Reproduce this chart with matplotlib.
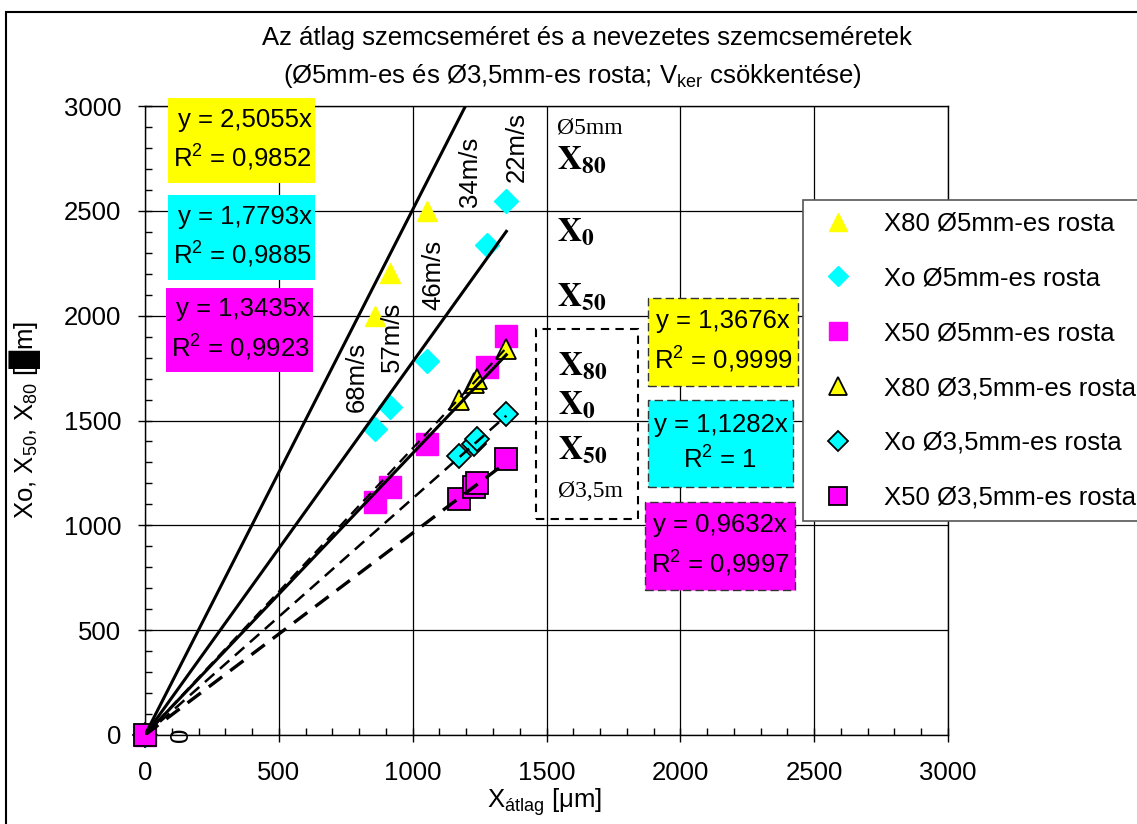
import matplotlib
matplotlib.use("Agg")
import matplotlib.pyplot as plt
from matplotlib.patches import Rectangle
from matplotlib.ticker import MultipleLocator

plt.rcParams['font.family'] = ['Liberation Sans', 'DejaVu Sans']
plt.rcParams['mathtext.fontset'] = 'custom'
plt.rcParams['mathtext.rm'] = 'Liberation Sans'
plt.rcParams['mathtext.it'] = 'Liberation Sans:italic'
plt.rcParams['mathtext.bf'] = 'Liberation Sans:bold'

# ---- data ----
# 5 mm sieve
x5_x80 = [0, 858, 915, 1052]
y5_x80 = [0, 2000, 2205, 2500]
x5 = [0, 858, 915, 1052, 1278, 1349]
y5_xo = [0, 1460, 1565, 1783, 2335, 2546]
y5_x50 = [0, 1110, 1183, 1388, 1755, 1905]
# 3.5 mm sieve
x35 = [0, 1172, 1228, 1240, 1348]
y35_x80 = [0, 1600, 1680, 1700, 1843]
y35_xo = [0, 1330, 1390, 1410, 1530]
y35_x50 = [0, 1125, 1185, 1200, 1318]

# trendline slopes (y = a*x)
slopes5 = [2.5055, 1.7793, 1.3435]
slopes35 = [1.3676, 1.1282, 0.9632]
fit_end = 1350

eq5 = ["y = 2,5055x\nR$^2$ = 0,9852", "y = 1,7793x\nR$^2$ = 0,9885", "y = 1,3435x\nR$^2$ = 0,9923"]
eq35 = ["y = 1,3676x\nR$^2$ = 0,9999", "y = 1,1282x\nR$^2$ = 1", "y = 0,9632x\nR$^2$ = 0,9997"]
speeds = ["68m/s", "57m/s", "46m/s", "34m/s", "22m/s"]

W, H = 1137, 824
fig = plt.figure(figsize=(W / 100, H / 100), dpi=100)


def fx(px):
    return px / W


def fy(py):
    return 1 - py / H


ax = fig.add_axes([fx(145), fy(735), fx(948) - fx(145), fy(106) - fy(735)])

FS = 18.5
YEL, CYA, MAG = '#ffff00', '#00ffff', '#ff00ff'

ax.plot(x5_x80, y5_x80, ls='none', marker='^', ms=15, mfc=YEL, mec=YEL, clip_on=False,
        label='X80 Ø5mm-es rosta', zorder=3)
ax.plot(x5, y5_xo, ls='none', marker='D', ms=12.5, mfc=CYA, mec=CYA, clip_on=False,
        label='Xo Ø5mm-es rosta', zorder=3)
ax.plot(x5, y5_x50, ls='none', marker='s', ms=16, mfc=MAG, mec=MAG, clip_on=False,
        label='X50 Ø5mm-es rosta', zorder=3)
ax.plot(x35, y35_x80, ls='none', marker='^', ms=15, mfc=YEL, mec='black', mew=1.3,
        clip_on=False, label='X80 Ø3,5mm-es rosta', zorder=4)
ax.plot(x35, y35_xo, ls='none', marker='D', ms=12, mfc=CYA, mec='black', mew=1.3,
        clip_on=False, label='Xo Ø3,5mm-es rosta', zorder=4)
ax.plot(x35, y35_x50, ls='none', marker='s', ms=15.5, mfc=MAG, mec='black', mew=1.3,
        clip_on=False, label='X50 Ø3,5mm-es rosta', zorder=4)

# trendlines drawn over the markers
for a in slopes5:
    ax.plot([0, fit_end], [0, a * fit_end], color='black', lw=2.2, zorder=5)
for a, lw in zip(slopes35, [1.6, 1.8, 2.4]):
    ax.plot([0, fit_end], [0, a * fit_end], color='black', lw=lw, ls=(0, (5, 3)), zorder=5)

ax.set_xlim(0, 3000)
ax.set_ylim(0, 3000)
ax.xaxis.set_major_locator(MultipleLocator(500))
ax.yaxis.set_major_locator(MultipleLocator(500))
ax.xaxis.set_minor_locator(MultipleLocator(100))
ax.yaxis.set_minor_locator(MultipleLocator(100))
ax.grid(True, which='major', color='black', lw=0.9)
ax.set_axisbelow(True)
ax.tick_params(which='major', direction='inout', length=10, width=1, labelsize=FS)
ax.tick_params(axis='y', which='major', pad=12)
ax.tick_params(axis='x', which='major', pad=14)
ax.tick_params(which='minor', direction='in', length=5, width=1)
for s in ax.spines.values():
    s.set_linewidth(1)

fig.text(fx(545), fy(802), 'X$_{\\mathrm{átlag}}$ [μm]', ha='center', va='center', fontsize=FS)
fig.text(fx(25), fy(420), 'Xo, X$_{50}$, X$_{80}$ [█m]', ha='center', va='center',
         rotation=90, fontsize=FS)

fig.text(fx(587), fy(38), 'Az átlag szemcseméret és a nevezetes szemcseméretek',
         ha='center', va='center', fontsize=FS)
fig.text(fx(572), fy(76), '(Ø5mm-es és Ø3,5mm-es rosta; V$_{\\mathrm{ker}}$ csökkentése)',
         ha='center', va='center', fontsize=FS)

# equation boxes
boxes5 = [(168, 98, 147, 85, YEL), (168, 195, 147, 85, CYA), (166, 288, 147, 84, MAG)]
boxes35 = [(648, 298, 150, 88, YEL), (648, 400, 145, 87, CYA), (645, 502, 150, 88, MAG)]
for (x0, y0, w, h, c), t in zip(boxes5, eq5):
    fig.patches.append(Rectangle((fx(x0), fy(y0 + h)), w / W, h / H, transform=fig.transFigure,
                                 facecolor=c, edgecolor='none', zorder=6))
    fig.text(fx(x0 + w / 2 + 1), fy(y0 + h / 2), t, ha='center', va='center', fontsize=FS,
             multialignment='right', linespacing=1.45, zorder=7)
for (x0, y0, w, h, c), t in zip(boxes35, eq35):
    fig.patches.append(Rectangle((fx(x0), fy(y0 + h)), w / W, h / H, transform=fig.transFigure,
                                 facecolor=c, edgecolor='#333333', ls=(0, (6, 3)), lw=1,
                                 zorder=6))
    fig.text(fx(x0 + w / 2), fy(y0 + h / 2), t, ha='center', va='center', fontsize=FS,
             multialignment='center', linespacing=1.45, zorder=7)

# speed labels
for t, (px, py) in zip(speeds, [(357, 377), (392, 337), (433, 275), (470, 172), (517, 147)]):
    fig.text(fx(px), fy(py), t, ha='center', va='center', rotation=90, fontsize=FS)

fig.text(fx(181), fy(735), '0', ha='center', va='center', rotation=90, fontsize=FS)

# sieve labels
serif = dict(math_fontfamily='stix', fontsize=24, ha='left', va='center')
fig.text(fx(557), fy(128), 'Ø5mm', family='Liberation Serif', fontsize=17, ha='left', va='center')
fig.text(fx(557), fy(160), r'$\mathbf{X_{80}}$', **serif)
fig.text(fx(557), fy(232), r'$\mathbf{X_{0}}$', **serif)
fig.text(fx(557), fy(297), r'$\mathbf{X_{50}}$', **serif)
fig.text(fx(558), fy(366), r'$\mathbf{X_{80}}$', **serif)
fig.text(fx(558), fy(405), r'$\mathbf{X_{0}}$', **serif)
fig.text(fx(558), fy(450), r'$\mathbf{X_{50}}$', **serif)
fig.text(fx(558), fy(492), 'Ø3,5m', family='Liberation Serif', fontsize=17, ha='left', va='center')
fig.patches.append(Rectangle((fx(536), fy(519)), (638 - 536) / W, (519 - 329) / H,
                             transform=fig.transFigure, facecolor='none', edgecolor='black',
                             ls=(0, (4, 3)), lw=1.5))

leg = fig.legend(loc='upper left', bbox_to_anchor=(fx(803), fy(200)), fontsize=FS,
                 frameon=True, fancybox=False, edgecolor='#555555', framealpha=1,
                 labelspacing=1.2, handletextpad=0.9, borderpad=0.45, borderaxespad=0,
                 markerscale=0.85, handlelength=1.8)
leg.get_frame().set_linewidth(1.2)

# outer chart frame
fig.patches.append(Rectangle((fx(6), -0.02), 1.05, fy(12) + 0.02, transform=fig.transFigure,
                             facecolor='none', edgecolor='black', lw=1.5))

fig.savefig('out.png', dpi=100)
